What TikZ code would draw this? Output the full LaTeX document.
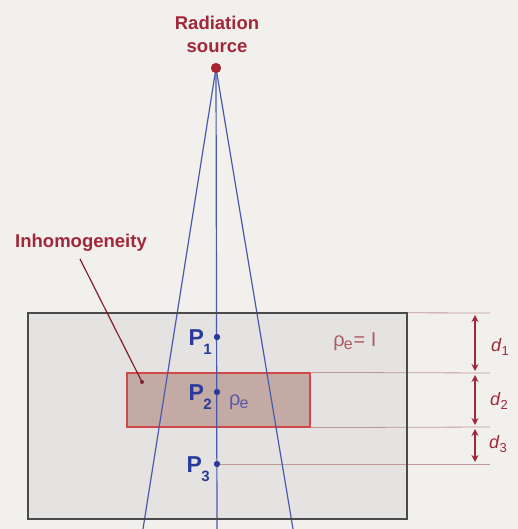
\documentclass[tikz,border=0pt]{standalone}
\usepackage{fontspec}
\setmainfont{Liberation Sans}
\usetikzlibrary{arrows.meta}
\definecolor{bg}{HTML}{F2F0ED}
\definecolor{dred}{HTML}{A02838}
\definecolor{pblue}{HTML}{2A3A9A}
\definecolor{beam}{HTML}{4A5AAA}
\definecolor{boxfill}{HTML}{E4E3E2}
\definecolor{boxedge}{HTML}{4A4A4A}
\definecolor{inhfill}{HTML}{C4AAA4}
\definecolor{inhedge}{HTML}{D04848}
\definecolor{guide}{HTML}{C09898}
\definecolor{rhored}{HTML}{B05A60}
\definecolor{rhoblue}{HTML}{5A5AA8}
\tikzset{
  lbl/.style={font=\fontsize{18.5}{23}\selectfont\bfseries, text=dred, align=center, inner sep=0pt},
  plbl/.style={font=\fontsize{23}{23}\selectfont\bfseries, text=pblue, inner sep=0pt},
  dlbl/.style={font=\fontsize{18}{18}\selectfont, text=dred, inner sep=0pt},
  beamline/.style={draw=beam, line width=1.2pt},
  guideline/.style={draw=guide, line width=0.8pt},
  dimarrow/.style={draw=dred, line width=1.6pt, {Stealth[length=7pt,width=7pt]}-{Stealth[length=7pt,width=7pt]}, shorten <=2pt, shorten >=2pt},
  pdot/.style={circle, fill=pblue, inner sep=0pt, minimum size=6pt},
}
\newcommand{\psub}[1]{P\kern-0.5pt\raisebox{-9pt}{\fontsize{15}{15}\selectfont #1}}
\begin{document}
\begin{tikzpicture}[x=1pt,y=-1pt]
\fill[bg] (0,0) rectangle (518,529);
\useasboundingbox (0,0) rectangle (518,529);

% phantom and inhomogeneity
\node[fill=boxfill, minimum width=379pt, minimum height=206pt, inner sep=0pt] (box) at (217.5,416) {};
\node[fill=inhfill, draw=inhedge, line width=1.2pt, minimum width=183pt, minimum height=54pt, inner sep=0pt] (inh) at (218.5,400) {};

% points
\node[pdot] (p1) at (217,337) {};
\node[pdot] (p2) at (217,392) {};
\node[pdot] (p3) at (217,464) {};

% guide lines
\coordinate (g1) at (490,313);
\coordinate (g2) at (490,373);
\coordinate (g3) at (490,427);
\coordinate (g4) at (490,464);
\draw[guideline] (box.north east) -- (g1);
\draw[guideline] (inh.north east) -- (g2);
\draw[guideline] (inh.south east) -- (g3);
\draw[guideline] (p3) -- (g4);

% beams
\node[circle, fill=dred!90!red, inner sep=0pt, minimum size=10pt] (src) at (216,68) {};
\coordinate (bl) at (143,529);
\coordinate (bc) at (217,529);
\coordinate (br) at (293,529);
\draw[beamline] (src.center) -- (bl);
\draw[beamline] (src.center) -- (bc);
\draw[beamline] (src.center) -- (br);
\node[circle, fill=dred!90!red, inner sep=0pt, minimum size=10pt] at (src) {};
\node[pdot] at (p1) {};
\node[pdot] at (p2) {};
\node[pdot] at (p3) {};

% box border
\draw[boxedge, line width=2pt] (box.south west) rectangle (box.north east);

% dimension arrows
\coordinate (a1) at (475,313);
\coordinate (a2) at (475,373);
\coordinate (a3) at (475,427);
\coordinate (a4) at (475,464);
\draw[dimarrow] (a1) -- (a2);
\draw[dimarrow] (a2) -- (a3);
\draw[dimarrow] (a3) -- (a4);

% labels
\node[lbl] (srclbl) at (217,34) {Radiation\\source};
\node[lbl] (inhlbl) at (81,243) {Inhomogeneity};
\coordinate (ltip) at (142,382);
\draw[draw=dred!80!black, line width=1.2pt] (80,259) -- (ltip);
\fill[dred!80!black] (ltip) circle (2pt);

\node[plbl, anchor=east] (p1l) at (212,342) {\psub{1}};
\node[plbl, anchor=east] (p2l) at (212,397) {\psub{2}};
\node[plbl, anchor=east] (p3l) at (210,469) {\psub{3}};

\node[font=\fontsize{20}{20}\selectfont, text=rhored, inner sep=0pt] (rho1) at (355,342) {ρ\kern-1pt\raisebox{-3pt}{\fontsize{16}{16}\selectfont e}\kern1pt= I};
\node[font=\fontsize{20}{20}\selectfont, text=rhoblue, inner sep=0pt, anchor=west] (rho2) at (229,402) {ρ\kern-1pt\raisebox{-3pt}{\fontsize{16}{16}\selectfont e}};

\node[dlbl] (d1) at (500,347) {\textit{d}\raisebox{-4pt}{\fontsize{13}{13}\selectfont 1}};
\node[dlbl] (d2) at (499,401) {\textit{d}\raisebox{-4pt}{\fontsize{13}{13}\selectfont 2}};
\node[dlbl] (d3) at (498,444) {\textit{d}\raisebox{-4pt}{\fontsize{13}{13}\selectfont 3}};
\end{tikzpicture}
\end{document}
